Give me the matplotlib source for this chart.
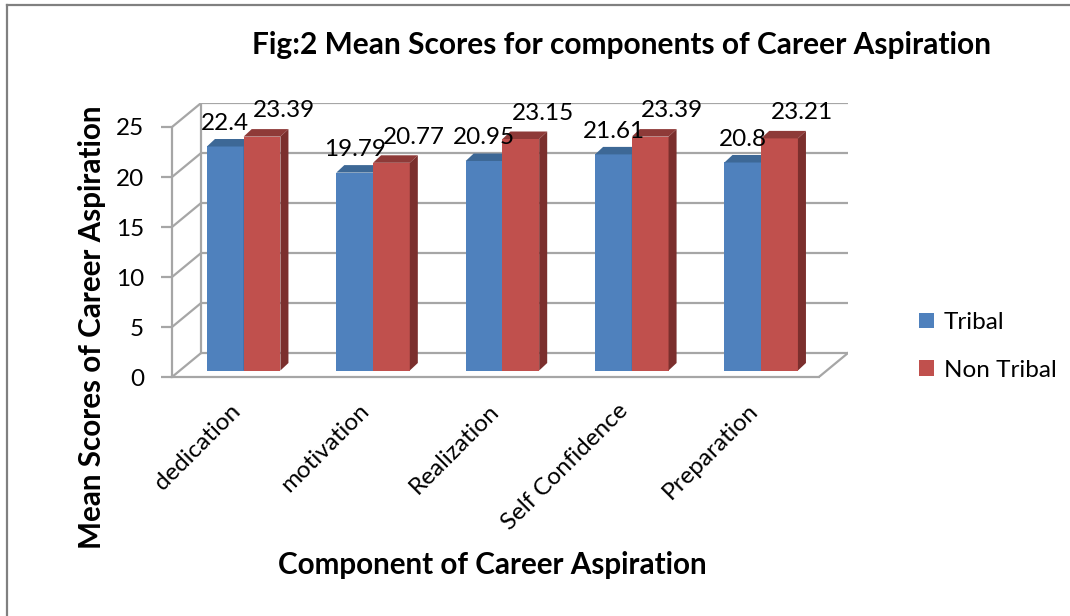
import matplotlib
matplotlib.use("Agg")
import matplotlib.pyplot as plt
from matplotlib.patches import Polygon, Patch
from matplotlib.lines import Line2D

plt.rcParams['font.family'] = ['Lato', 'DejaVu Sans']

# ---------------- data ----------------
categories = ["dedication", "motivation", "Realization", "Self Confidence", "Preparation"]
series_names = ["Tribal", "Non Tribal"]
tribal = [22.4, 19.79, 20.95, 21.61, 20.8]
non_tribal = [23.39, 20.77, 23.15, 23.39, 23.21]
y_ticks = [0, 5, 10, 15, 20, 25]
title = "Fig:2 Mean Scores for components of Career Aspiration"
x_label = "Component of Career Aspiration"
y_label = "Mean Scores of Career Aspiration"

# ---------------- style ----------------
W, H = 1070, 616
DPI = 100
front_cols = ["#4f81bd", "#c0504d"]
top_cols = ["#3d6896", "#8e3a38"]
side_cols = ["#2f5583", "#7b2f2d"]
grid_col = "#a6a6a6"

DX, DY = 0.225, 2.4        # depth of the chart box (category units, value units)
BX, BY = 0.054, 0.65       # bar placement inside depth
BW = 0.284                 # bar width
DDX, DDY = 0.062, 0.75     # bar depth

fig = plt.figure(figsize=(W / DPI, H / DPI), dpi=DPI)
ax = fig.add_axes([172 / W, (H - 377) / H, 676 / W, 274 / H])
ax.set_xlim(0, len(categories) + DX)
ax.set_ylim(0, max(y_ticks) + DY)
ax.patch.set_alpha(0)

n = len(categories)
ymax = max(y_ticks)

# back wall, side wall, floor
for v in y_ticks:
    ax.plot([DX, n + DX], [v + DY, v + DY], color=grid_col, lw=1.6, zorder=1, solid_capstyle='butt')
    ax.plot([0, DX], [v, v + DY], color=grid_col, lw=1.6, zorder=1)
ax.plot([DX, DX], [DY, ymax + DY], color=grid_col, lw=1.6, zorder=1)
ax.plot([n, n + DX], [0, DY], color=grid_col, lw=1.6, zorder=1)

# bars
for s, vals in enumerate([tribal, non_tribal]):
    for i, v in enumerate(vals):
        left = i + 0.5 + BX - BW + s * BW
        top = BY + v
        ax.bar(left, v, width=BW, bottom=BY, align='edge', color=front_cols[s],
               edgecolor='none', zorder=3 + s)
        ax.add_patch(Polygon([(left, top), (left + BW, top), (left + BW + DDX, top + DDY),
                              (left + DDX, top + DDY)], closed=True, facecolor=top_cols[s],
                             edgecolor='none', zorder=3 + s))
        ax.add_patch(Polygon([(left + BW, BY), (left + BW + DDX, BY + DDY),
                              (left + BW + DDX, top + DDY), (left + BW, top)], closed=True,
                             facecolor=side_cols[s], edgecolor='none', zorder=3 + s))
        offx = 0 if s == 0 else 16
        offy = 9 if s == 0 else 11
        ax.annotate(f"{v:g}", xy=(left + BW / 2, top), xytext=(offx, offy),
                    textcoords='offset points', ha='center', va='bottom',
                    fontsize=17.5, color='black', zorder=10)

# axes lines / ticks
for side in ['top', 'right']:
    ax.spines[side].set_visible(False)
ax.spines['left'].set_bounds(0, ymax)
ax.spines['bottom'].set_bounds(0, n)
ax.spines['left'].set_color(grid_col)
ax.spines['bottom'].set_color(grid_col)
ax.spines['left'].set_linewidth(1.6)
ax.spines['bottom'].set_linewidth(1.6)
ax.spines['bottom'].set_zorder(6)

ax.set_yticks(y_ticks)
ax.set_yticklabels([str(t) for t in y_ticks], fontsize=17.5)
ax.tick_params(axis='y', length=8, width=1.6, color=grid_col, pad=12)
ax.set_xticks([i + 0.5 for i in range(n)])
ax.set_xticklabels(categories, fontsize=17.5, rotation=45, ha='right',
                   rotation_mode='anchor', va='center')
ax.tick_params(axis='x', length=0, pad=22)

# legend
handles = [Patch(facecolor=front_cols[k], edgecolor='none') for k in range(2)]
fig.legend(handles, series_names, loc='upper left', bbox_to_anchor=(919 / W, 1 - 312 / H),
           frameon=False, fontsize=17.5, handlelength=0.62, handleheight=0.62,
           handletextpad=0.4, labelspacing=1.1, borderaxespad=0, borderpad=0)

# titles
fig.text(621 / W, 1 - 45 / H, title, ha='center', va='center', fontsize=21.5, fontweight='bold')
fig.text(92 / W, 1 - 327 / H, y_label, ha='center', va='center', rotation=90,
         fontsize=21.3, fontweight='bold')
fig.text(492 / W, 1 - 565 / H, x_label, ha='center', va='center', fontsize=21.3,
         fontweight='bold')

# outer frame
fig.add_artist(Line2D([7 / W, 7 / W], [0, 1 - 5 / H], transform=fig.transFigure,
                      color='#808080', lw=1.6))
fig.add_artist(Line2D([7 / W, 1], [1 - 5 / H, 1 - 5 / H], transform=fig.transFigure,
                      color='#808080', lw=1.6))

fig.savefig("out.png", dpi=DPI)
